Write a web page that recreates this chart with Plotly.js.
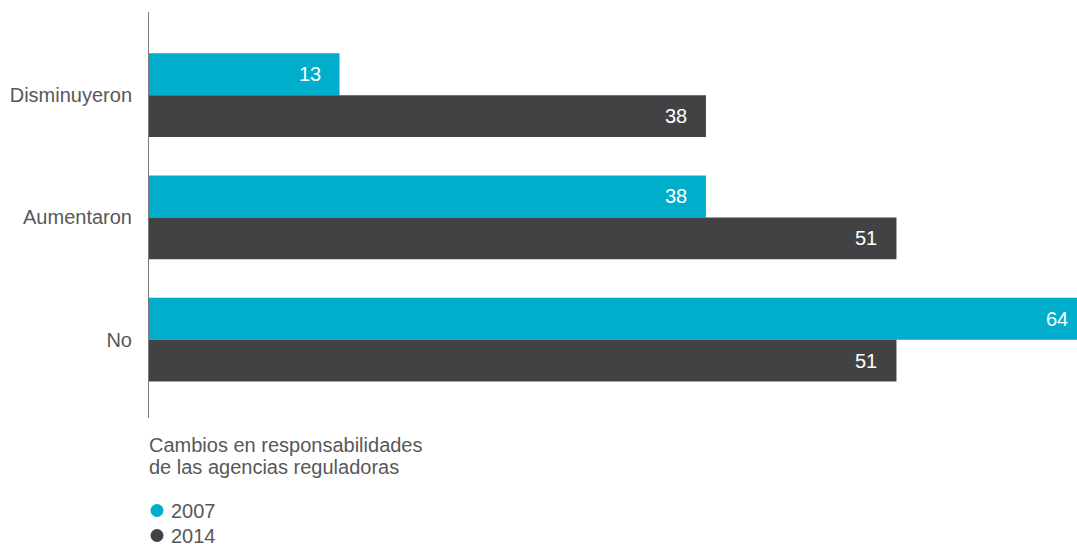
<!DOCTYPE html>
<html>
<head>
<meta charset="utf-8">
<script src="https://cdn.plot.ly/plotly-3.0.1.min.js"></script>
<style>html,body{margin:0;padding:0;background:#fff;overflow:hidden;}#chart{width:1087px;height:544px;}</style>
</head>
<body>
<div id="chart"></div>
<script>
const categories = ["Disminuyeron", "Aumentaron", "No"];
const values2007 = [13, 38, 64];
const values2014 = [38, 51, 51];
const seriesNames = ["2007", "2014"];
const legendTitleLines = ["Cambios en responsabilidades", "de las agencias reguladoras"];

const colors = ["#00ADCA", "#424244"];
const font = "Liberation Sans, Arial, sans-serif";
const textColor = "#585858";
const fs = 20;

// pixel -> paper helpers (plot area: x 149..1087, y 12..418)
const W = 1087, L = 149, T = 12, B = 418;
const px = p => (p - L) / (W - L);
const py = p => (B - p) / (B - T);

function barTrace(vals, name, color) {
  return {
    type: "bar", orientation: "h",
    y: categories, x: vals, name: name,
    marker: {color: color},
    showlegend: false, hoverinfo: "skip"
  };
}

const data = [
  barTrace(values2007, seriesNames[0], colors[0]),
  barTrace(values2014, seriesNames[1], colors[1])
];

// value labels inside the bar ends
const annotations = [];
[[values2007, -21], [values2014, 21]].forEach(([vals, ys]) => {
  vals.forEach((v, i) => {
    annotations.push({
      x: v, y: categories[i], xref: "x", yref: "y",
      xanchor: "right", yanchor: "middle", xshift: -17, yshift: -ys,
      text: String(v), showarrow: false,
      font: {size: fs, color: "#ffffff", family: font}
    });
  });
});
legendTitleLines.forEach((t, k) => {
  annotations.push({
    xref: "paper", yref: "paper", x: px(147), y: py(445 + 22 * k),
    xanchor: "left", yanchor: "middle",
    text: t, showarrow: false, align: "left",
    font: {size: fs, color: textColor, family: font}
  });
});
// legend entries
const shapes = [];
seriesNames.forEach((name, k) => {
  const cy = 510.5 + 25 * k;
  annotations.push({
    xref: "paper", yref: "paper", x: px(169), y: py(cy),
    xanchor: "left", yanchor: "middle",
    text: name, showarrow: false,
    font: {size: fs, color: textColor, family: font}
  });
  shapes.push({
    type: "circle", xref: "paper", yref: "paper",
    x0: px(150.5), x1: px(163.5), y0: py(cy + 6.5), y1: py(cy - 6.5),
    fillcolor: colors[k], line: {width: 0}
  });
});

const layout = {
  width: W, height: 544,
  margin: {l: L, r: 0, t: T, b: 544 - B, pad: 0, autoexpand: false},
  paper_bgcolor: "#ffffff", plot_bgcolor: "#ffffff",
  barmode: "group", bargap: 0.315, bargroupgap: 0,
  font: {family: font, color: textColor, size: fs},
  xaxis: {range: [0, 64], showgrid: false, zeroline: false, showline: false,
          showticklabels: false, ticks: "", fixedrange: true},
  yaxis: {type: "category", categoryorder: "array", categoryarray: categories,
          range: [2.64, -0.68], showgrid: false, zeroline: false,
          showline: true, linecolor: "#7a7a7a", linewidth: 1, ticks: "",
          ticklabelstandoff: 12, tickfont: {size: fs, color: textColor, family: font}},
  showlegend: false,
  annotations: annotations,
  shapes: shapes
};

Plotly.newPlot("chart", data, layout, {displayModeBar: false, staticPlot: true});
</script>
</body>
</html>
